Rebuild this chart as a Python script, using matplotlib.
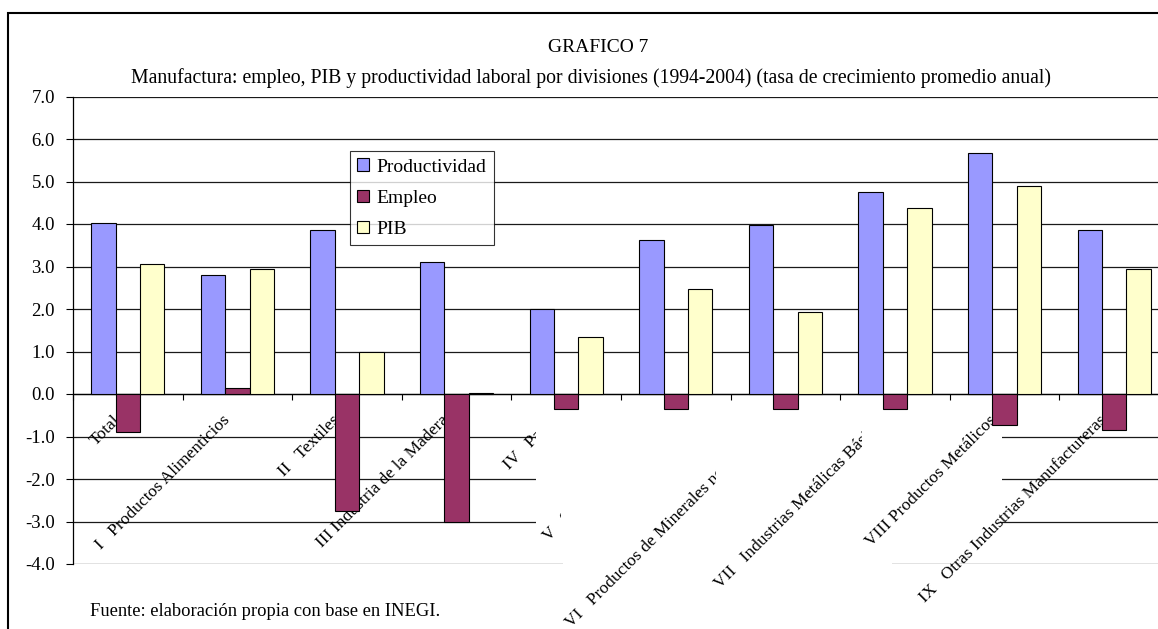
import matplotlib
matplotlib.use("Agg")
import matplotlib.pyplot as plt
import numpy as np
from matplotlib.patches import Rectangle, Patch
from matplotlib import transforms

plt.rcParams['font.family'] = ['Liberation Serif', 'DejaVu Serif']
plt.rcParams['axes.unicode_minus'] = False

# data (tasa de crecimiento promedio anual 1994-2004)
divisiones = ["Total", "I   Productos Alimenticios", "II   Textiles",
              "III Industria de la Madera", "IV   Papel",
              "V   Sustancias Químicas",
              "VI   Productos de Minerales no Metálicos",
              "VII   Industrias Metálicas Básicas", "VIII Productos Metálicos",
              "IX   Otras Industrias Manufactureras"]
productividad = [4.03, 2.80, 3.85, 3.10, 2.00, 3.63, 3.97, 4.75, 5.67, 3.85]
empleo = [-0.90, 0.15, -2.75, -3.00, -0.35, -0.35, -0.35, -0.35, -0.72, -0.85]
pib = [3.07, 2.95, 0.98, 0.02, 1.35, 2.48, 1.93, 4.37, 4.90, 2.95]

W, H = 1158, 629
fig = plt.figure(figsize=(W / 100, H / 100), dpi=100)

# axes: left edge at 73 px, plot runs past the right border of the picture
ax = fig.add_axes([73 / W, 1 - 564 / H, (1169 - 73) / W, (564 - 96.5) / H])

x = np.arange(len(divisiones))
w = 0.2226
ax.bar(x - w, productividad, w, color='#9999FF', edgecolor='black', lw=0.8, zorder=20)
ax.bar(x, empleo, w, color='#993366', edgecolor='black', lw=0.8, zorder=20)
ax.bar(x + w, pib, w, color='#FFFFCC', edgecolor='black', lw=0.8, zorder=20)

ax.set_xlim(-0.5, len(divisiones) - 0.5)
ax.set_ylim(-4, 7)
ax.set_yticks(np.arange(-4, 8))
ax.set_yticklabels([f"{v:.1f}" for v in np.arange(-4, 8)], fontsize=13.5)
ax.yaxis.grid(True, color='#1a1a1a', lw=0.9)
ax.set_axisbelow(True)
ax.tick_params(axis='y', length=5, width=0.8, pad=8)

for s in ['top', 'right']:
    ax.spines[s].set_visible(False)
ax.spines['bottom'].set_position(('data', 0))
ax.spines['bottom'].set_linewidth(0.9)
ax.spines['left'].set_linewidth(0.9)
ax.set_xticks(np.arange(-0.5, len(divisiones), 1))
ax.set_xticklabels([])
ax.tick_params(axis='x', length=4, width=0.8, direction='out')


def blank(x0, y0, x1, y1, z):
    ax.add_patch(Rectangle((x0 / W, 1 - y1 / H), (x1 - x0) / W, (y1 - y0) / H,
                           transform=fig.transFigure, fc='white', ec='none',
                           zorder=z, clip_on=False))


# category labels, later ones cover the tails of earlier ones
lab_tr = transforms.offset_copy(ax.transData, fig=fig, x=-10, y=-24, units='dots')
zs = [3, 3, 3, 3, 3, 5, 7, 9, 11, 11]
for i, lab in enumerate(divisiones):
    ax.text(i, 0, lab, transform=lab_tr, rotation=45, ha='right', va='center',
            rotation_mode='anchor', fontsize=12.6, zorder=zs[i], clip_on=False)

blank(536, 409, 1002, 556, 4)
blank(563, 556, 892, 640, 4)
blank(561, 409, 1002, 556, 6)
blank(716, 409, 1002, 556, 8)
blank(716, 556, 892, 640, 8)
blank(862, 409, 1002, 556, 10)

handles = [Patch(facecolor='#9999FF', edgecolor='black', lw=0.8),
           Patch(facecolor='#993366', edgecolor='black', lw=0.8),
           Patch(facecolor='#FFFFCC', edgecolor='black', lw=0.8)]
leg = ax.legend(handles, ["Productividad", "Empleo", "PIB"], loc='upper left',
                bbox_to_anchor=(350 / W, 1 - 151 / H), bbox_transform=fig.transFigure,
                fontsize=14, frameon=True, fancybox=False, shadow=False,
                handlelength=0.62, handleheight=0.62, handletextpad=0.36,
                labelspacing=0.72, borderpad=0.38, borderaxespad=0)
leg.get_frame().set_edgecolor('black')
leg.get_frame().set_linewidth(0.8)
leg.set_zorder(30)

fig.text(598 / W, 1 - 47 / H, "GRAFICO 7", ha='center', va='center', fontsize=14)
fig.text(591 / W, 1 - 78 / H,
         "Manufactura: empleo, PIB y productividad laboral por divisiones (1994-2004) "
         "(tasa de crecimiento promedio anual)", ha='center', va='center', fontsize=14.2)
fig.text(90 / W, 1 - 612 / H, "Fuente: elaboración propia con base en INEGI.",
         ha='left', va='center', fontsize=13.3)

# outer frame of the chart (cut off at right and bottom)
fig.add_artist(Rectangle((8 / W, -0.1), 1.2, (1 - 13 / H) + 0.1, transform=fig.transFigure,
                         fill=False, ec='black', lw=1.5))

fig.savefig("out.png", dpi=100)
